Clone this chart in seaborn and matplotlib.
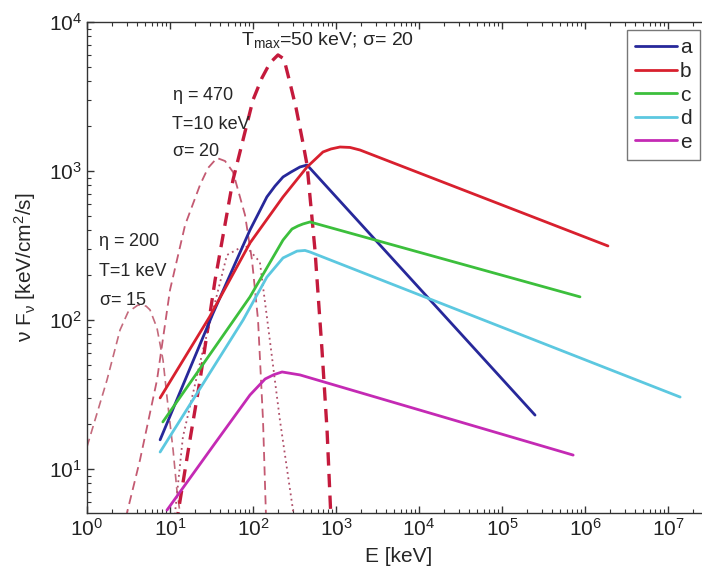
import matplotlib
matplotlib.use("Agg")
import matplotlib.pyplot as plt
import seaborn as sns
import pandas as pd
from matplotlib.ticker import LogLocator, NullFormatter, LogFormatterSciNotation

# ---- spectral data (E in keV, nuF_nu in keV/cm^2/s) ----
E_a = [7.6, 33, 92, 147, 184, 230, 287, 368, 448, 2.5e5]
F_a = [15.7, 111, 402, 670, 792, 912, 984, 1064, 1097, 23]

E_b = [7.6, 30, 92, 230, 448, 697, 871, 1117, 1475, 1946, 1.89e6]
F_b = [30, 105, 329, 670, 1064, 1342, 1406, 1449, 1439, 1383, 314]

E_c = [8.2, 92, 230, 295, 349, 400, 486, 8.7e5]
F_c = [20.7, 143, 344, 408, 428, 441, 455, 143]

E_d = [7.6, 76, 147, 230, 339, 423, 486, 1.4e7]
F_d = [13, 100, 194, 261, 290, 293, 286, 30.4]

E_e = [9.2, 34.9, 92, 140, 179, 224, 368, 7.2e5]
F_e = [5.3, 14.9, 31.4, 40.2, 43.0, 44.8, 42.8, 12.4]

# thermal components
E_tmax = [11.5, 12.5, 17.4, 23.0, 34.9, 57.4, 100, 128, 160, 200, 236, 279, 330,
          400, 448, 558, 678, 780, 900]
F_tmax = [3.0, 5.07, 15.7, 39.5, 185, 871, 2999, 4207, 5309, 6012, 5649, 3899, 2649,
          1541, 1097, 295, 63.0, 18.3, 3.0]

E_t10 = [2.8, 3.03, 4.35, 6.97, 10.0, 15.2, 23.0, 28.7, 36.8, 46.0, 57.4, 80.1, 97.2,
         115, 132, 143, 150]
F_t10 = [3.0, 5.07, 11.5, 39.5, 159, 434, 806, 1047, 1223, 1167, 985, 507, 253,
         100, 21.3, 5.07, 3.0]

E_t1 = [1.0, 1.74, 2.50, 3.12, 4.11, 5.14, 5.74, 6.97, 8.24, 9.20, 10.9, 12.1, 13.2, 14.0]
F_t1 = [14.1, 39.5, 85.7, 113, 126, 124, 117, 88.4, 53.9, 30.4, 13.4, 7.23, 5.07, 3.0]

E_dot = [10.8, 11.5, 14.3, 25.0, 48.6, 80.1, 121, 147, 211, 303, 320]
F_dot = [3.0, 5.07, 16.4, 63.0, 273, 318, 245, 105, 21.3, 5.31, 3.0]

series_labels = ["a", "b", "c", "d", "e"]
series_colors = ["#27289a", "#d8202e", "#3cbf3c", "#5cc8e0", "#c42ab4"]

x_ticks = [1e0, 1e1, 1e2, 1e3, 1e4, 1e5, 1e6, 1e7]
y_ticks = [1e1, 1e2, 1e3, 1e4]

sns.set_style("ticks")
plt.rcParams["font.family"] = ["Liberation Sans", "DejaVu Sans"]
plt.rcParams["mathtext.default"] = "regular"

fig = plt.figure(figsize=(7.02, 5.75), dpi=100)
ax = fig.add_axes([87 / 702, 62 / 575, 623 / 702, 491 / 575])
ax.set_xscale("log")
ax.set_yscale("log")

# thermal (dashed / dotted) curves
sns.lineplot(x=E_t1, y=F_t1, ax=ax, sort=False, estimator=None, color="#c46a7c",
             lw=1.2, linestyle=(0, (5, 3)), legend=False)
sns.lineplot(x=E_t10, y=F_t10, ax=ax, sort=False, estimator=None, color="#c45a72",
             lw=1.3, linestyle=(0, (5, 3)), legend=False)
sns.lineplot(x=E_dot, y=F_dot, ax=ax, sort=False, estimator=None, color="#b0506a",
             lw=1.3, linestyle=(0, (1, 2)), legend=False)
sns.lineplot(x=E_tmax, y=F_tmax, ax=ax, sort=False, estimator=None, color="#c41a3c",
             lw=2.4, linestyle=(0, (4, 2.5)), legend=False)

# model spectra
for E, F, lab, col in zip([E_a, E_b, E_c, E_d, E_e], [F_a, F_b, F_c, F_d, F_e],
                          series_labels, series_colors):
    df = pd.DataFrame({"E": E, "F": F})
    sns.lineplot(data=df, x="E", y="F", ax=ax, sort=False, estimator=None,
                 color=col, lw=2.0, label=lab)

ax.set_xlim(1, 10 ** (623 / 83))
ax.set_ylim(10 ** (4 - 491 / 149), 1e4)

ax.set_xticks(x_ticks)
ax.set_yticks(y_ticks)
ax.xaxis.set_major_formatter(LogFormatterSciNotation())
ax.yaxis.set_major_formatter(LogFormatterSciNotation())
ax.xaxis.set_minor_locator(LogLocator(base=10, subs=range(2, 10), numticks=12))
ax.yaxis.set_minor_locator(LogLocator(base=10, subs=range(2, 10), numticks=12))
ax.xaxis.set_minor_formatter(NullFormatter())
ax.yaxis.set_minor_formatter(NullFormatter())
ax.tick_params(which="both", direction="in", top=True, right=True, colors="#333333",
               labelcolor="#222222")
ax.tick_params(which="major", length=5, width=1.0, labelsize=15)
ax.tick_params(which="minor", length=3, width=0.8)
for s in ax.spines.values():
    s.set_color("#333333")
    s.set_linewidth(1.0)

ax.set_xlabel("E [keV]", fontsize=15, labelpad=5)
ax.set_ylabel(r"$\nu$ F$_{\nu}$ [keV/cm$^2$/s]", fontsize=15, labelpad=8)

# annotations
ax.text(800, 7600, r"T$_{max}$=50 keV; $\sigma$= 20", fontsize=14, ha="center", va="center")
ax.text(10.6, 3236, r"$\eta$ = 470", fontsize=13, ha="left", va="center")
ax.text(10.6, 2037, "T=10 keV", fontsize=13, ha="left", va="center")
ax.text(10.6, 1342, r"$\sigma$= 20", fontsize=13, ha="left", va="center")
ax.text(1.35, 334, r"$\eta$ = 200", fontsize=13, ha="left", va="center")
ax.text(1.40, 210, "T=1 keV", fontsize=13, ha="left", va="center")
ax.text(1.40, 136, r"$\sigma$= 15", fontsize=13, ha="left", va="center")

leg = ax.legend(loc="upper right", bbox_to_anchor=(700 / 702, 1 - 30 / 575),
                bbox_transform=fig.transFigure, fontsize=15, frameon=True,
                fancybox=False, edgecolor="#555555", handlelength=2.0,
                handletextpad=0.15, labelspacing=0.22, borderpad=0.4,
                borderaxespad=0)
leg.get_frame().set_linewidth(1.0)

fig.savefig("out.png", dpi=100)
